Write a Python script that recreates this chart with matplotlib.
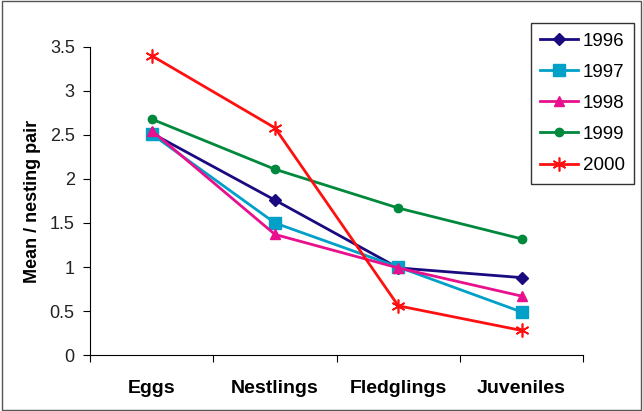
import matplotlib
matplotlib.use("Agg")
import matplotlib.pyplot as plt
from matplotlib.patches import Rectangle

plt.rcParams['font.family'] = ['Liberation Sans', 'DejaVu Sans']

stages = ["Eggs", "Nestlings", "Fledglings", "Juveniles"]
years = ["1996", "1997", "1998", "1999", "2000"]
v1996 = [2.52, 1.76, 0.99, 0.88]
v1997 = [2.51, 1.50, 1.00, 0.49]
v1998 = [2.55, 1.37, 0.99, 0.67]
v1999 = [2.68, 2.11, 1.67, 1.32]
v2000 = [3.40, 2.58, 0.56, 0.28]
yticks = [0, 0.5, 1, 1.5, 2, 2.5, 3, 3.5]
ytick_labels = ["0", "0.5", "1", "1.5", "2", "2.5", "3", "3.5"]

series = [v1996, v1997, v1998, v1999, v2000]
colors = ["#1a0a80", "#00a0c8", "#e8108c", "#00883c", "#ff1010"]
markers = ["D", "s", "^", "o", (6, 2, 0)]
msizes = [6, 8, 7, 6, 10]

fig = plt.figure(figsize=(6.43, 4.11), dpi=100)
ax = fig.add_axes([0.14, 0.136, 0.767, 0.75])

x = list(range(len(stages)))
for vals, yr, c, m, ms in zip(series, years, colors, markers, msizes):
    ax.plot(x, vals, color=c, lw=2, marker=m, markersize=ms,
            markeredgecolor=c, markeredgewidth=1.2 if m == (6, 2, 0) else 1,
            label=yr)

ax.set_xlim(-0.5, len(stages) - 0.5)
ax.set_ylim(0, 3.5)
ax.set_yticks(yticks)
ax.set_yticklabels(ytick_labels, fontsize=13, color="#222222")
ax.set_xticks([i - 0.5 for i in range(len(stages) + 1)])
ax.set_xticklabels([])
ax.set_xticks(x, minor=True)
ax.set_xticklabels(stages, minor=True, fontsize=14, fontweight="bold")
ax.tick_params(axis="x", which="minor", length=0, pad=18)
ax.tick_params(axis="x", which="major", length=5, direction="out")
ax.tick_params(axis="y", length=5, direction="out", pad=6)
ax.spines["top"].set_visible(False)
ax.spines["right"].set_visible(False)
ax.set_ylabel("Mean / nesting pair", fontsize=13, fontweight="bold", labelpad=6)

leg = ax.legend(loc="upper left", bbox_to_anchor=(531 / 643, 1 - 23 / 411),
                bbox_transform=fig.transFigure, fontsize=13.5, frameon=True,
                fancybox=False, edgecolor="black", handlelength=2.0,
                borderpad=0.5, labelspacing=0.75, handletextpad=0.25,
                borderaxespad=0)
leg.get_frame().set_linewidth(1)

fig.patches.append(Rectangle((0.003, 0.003), 0.994, 0.994, transform=fig.transFigure,
                             fill=False, edgecolor="#555555", lw=1))

fig.savefig("out.png", dpi=100)
